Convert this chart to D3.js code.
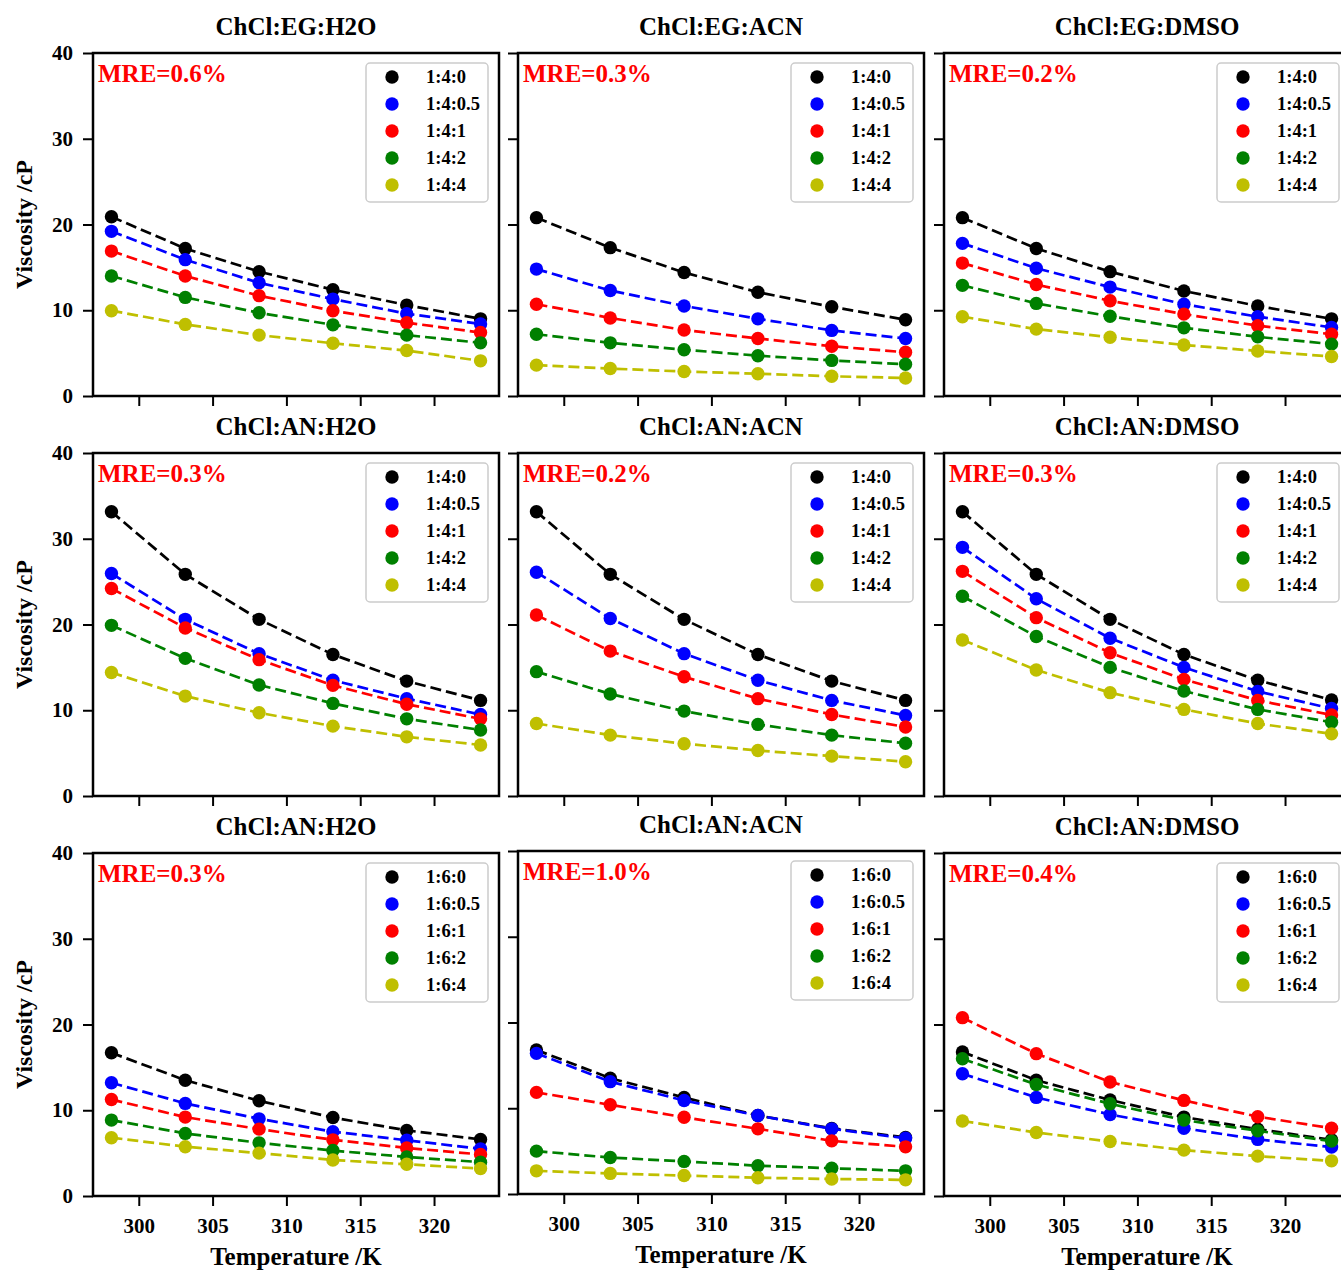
<!DOCTYPE html>
<html>
<head>
<meta charset="utf-8">
<script src="https://cdn.jsdelivr.net/npm/d3@7"></script>
<style>
	body { margin: 0; background: #fff; }
	svg { display: block; }
	text { font-family: "Liberation Serif", "Times New Roman", serif; font-weight: bold; }
</style>
</head>
<body>
<div id="chart"></div>
<script>
// temperatures (K) shared by every panel
var temps = [298.15, 303.15, 308.15, 313.15, 318.15, 323.15];
var xTicks = [300, 305, 310, 315, 320];
var yTicks = [0, 10, 20, 30, 40];

var titles = ['ChCl:EG:H2O', 'ChCl:EG:ACN', 'ChCl:EG:DMSO',
	'ChCl:AN:H2O', 'ChCl:AN:ACN', 'ChCl:AN:DMSO',
	'ChCl:AN:H2O', 'ChCl:AN:ACN', 'ChCl:AN:DMSO'];
var mreLabels = ['MRE=0.6%', 'MRE=0.3%', 'MRE=0.2%',
	'MRE=0.3%', 'MRE=0.2%', 'MRE=0.3%',
	'MRE=0.3%', 'MRE=1.0%', 'MRE=0.4%'];
var ratios14 = ['1:4:0', '1:4:0.5', '1:4:1', '1:4:2', '1:4:4'];
var ratios16 = ['1:6:0', '1:6:0.5', '1:6:1', '1:6:2', '1:6:4'];

// viscosity (cP), one row per ratio, in legend order
var egH2O = [
	[20.9, 17.2, 14.5, 12.4, 10.6, 9.0],
	[19.2, 15.9, 13.2, 11.3, 9.6, 8.4],
	[16.9, 14.0, 11.7, 9.95, 8.55, 7.4],
	[14.0, 11.5, 9.7, 8.3, 7.1, 6.2],
	[9.95, 8.35, 7.1, 6.15, 5.3, 4.1]];
var egACN = [
	[20.8, 17.3, 14.4, 12.1, 10.4, 8.9],
	[14.8, 12.3, 10.5, 9.0, 7.65, 6.7],
	[10.7, 9.1, 7.7, 6.7, 5.8, 5.1],
	[7.2, 6.2, 5.4, 4.7, 4.15, 3.7],
	[3.6, 3.2, 2.85, 2.6, 2.3, 2.1]];
var egDMSO = [
	[20.8, 17.2, 14.5, 12.25, 10.5, 9.0],
	[17.8, 14.9, 12.7, 10.7, 9.25, 8.0],
	[15.5, 13.0, 11.1, 9.55, 8.2, 7.2],
	[12.9, 10.8, 9.3, 7.95, 6.9, 6.05],
	[9.25, 7.8, 6.85, 5.95, 5.25, 4.6]];
var an4H2O = [
	[33.15, 25.85, 20.6, 16.5, 13.4, 11.15],
	[25.95, 20.6, 16.6, 13.5, 11.35, 9.5],
	[24.2, 19.6, 15.9, 12.9, 10.7, 9.0],
	[19.9, 16.05, 12.95, 10.8, 9.0, 7.7],
	[14.4, 11.65, 9.7, 8.15, 6.9, 5.95]];
var an4ACN = [
	[33.15, 25.85, 20.6, 16.5, 13.4, 11.15],
	[26.1, 20.7, 16.6, 13.5, 11.15, 9.4],
	[21.1, 16.9, 13.9, 11.35, 9.5, 8.05],
	[14.5, 11.9, 9.9, 8.35, 7.1, 6.15],
	[8.45, 7.1, 6.1, 5.3, 4.65, 4.0]];
var an4DMSO = [
	[33.15, 25.85, 20.6, 16.5, 13.5, 11.2],
	[29.0, 23.0, 18.4, 15.0, 12.2, 10.2],
	[26.2, 20.8, 16.7, 13.6, 11.15, 9.45],
	[23.3, 18.6, 15.0, 12.25, 10.1, 8.6],
	[18.2, 14.7, 12.05, 10.1, 8.45, 7.25]];
var an6H2O = [
	[16.7, 13.5, 11.1, 9.15, 7.65, 6.6],
	[13.2, 10.8, 9.0, 7.5, 6.5, 5.5],
	[11.25, 9.2, 7.8, 6.55, 5.6, 4.85],
	[8.85, 7.3, 6.2, 5.3, 4.55, 3.95],
	[6.8, 5.75, 5.0, 4.2, 3.7, 3.2]];
var an6ACN = [
	[16.8, 13.5, 11.25, 9.15, 7.65, 6.6],
	[16.4, 13.1, 10.9, 9.15, 7.6, 6.5],
	[11.85, 10.4, 8.95, 7.6, 6.2, 5.5],
	[5.0, 4.25, 3.8, 3.3, 3.0, 2.7],
	[2.7, 2.4, 2.15, 1.9, 1.75, 1.65]];
var an6DMSO = [
	[16.8, 13.5, 11.2, 9.2, 7.8, 6.55],
	[14.25, 11.5, 9.5, 7.9, 6.6, 5.7],
	[20.8, 16.6, 13.3, 11.15, 9.25, 7.9],
	[16.0, 13.0, 10.75, 8.85, 7.6, 6.4],
	[8.75, 7.4, 6.35, 5.35, 4.65, 4.1]];

var panelData = [egH2O, egACN, egDMSO, an4H2O, an4ACN, an4DMSO, an6H2O, an6ACN, an6DMSO];
var panelRatios = [ratios14, ratios14, ratios14, ratios14, ratios14, ratios14, ratios16, ratios16, ratios16];

// matplotlib k, b, r, g, y
var colors = ['#000000', '#0000ff', '#ff0000', '#008000', '#bfbf00'];

// layout
var width = 1341, height = 1272;
var colLeft = [93, 518, 944];
var rowTop = [53, 453, 853];
var panelW = 406, panelH = 343;
var shiftY = [0, 0, 0, 0, 0, 0, 0, -2, 0];

var svg = d3.select('#chart').append('svg')
	.attr('width', width)
	.attr('height', height);

var x = d3.scaleLinear().domain([296.9, 324.4]).range([0, panelW]);
var y = d3.scaleLinear().domain([0, 40]).range([panelH, 0]);

var line = d3.line()
	.x(function(d, i) { return x(temps[i]); })
	.y(function(d) { return y(d); });

panelData.forEach(function(series, p) {
	var row = Math.floor(p / 3), col = p % 3;
	var g = svg.append('g')
		.attr('transform', 'translate(' + colLeft[col] + ',' + (rowTop[row] + shiftY[p]) + ')');

	// title
	g.append('text')
		.attr('x', panelW / 2)
		.attr('y', -18)
		.attr('text-anchor', 'middle')
		.style('font-size', '25px')
		.text(titles[p]);

	// axes (ticks only, frame drawn separately)
	var yAxis = d3.axisLeft(y).tickValues(yTicks).tickSize(10).tickPadding(10)
		.tickFormat(col === 0 ? d3.format('d') : function() { return ''; });
	var ya = g.append('g').call(yAxis);
	var xAxis = d3.axisBottom(x).tickValues(xTicks).tickSize(10).tickPadding(12)
		.tickFormat(row === 2 ? d3.format('d') : function() { return ''; });
	var xa = g.append('g').attr('transform', 'translate(0,' + panelH + ')').call(xAxis);
	[ya, xa].forEach(function(a) {
		a.select('.domain').remove();
		a.selectAll('line').attr('stroke', '#000').attr('stroke-width', 2);
		a.selectAll('text')
			.attr('fill', '#000')
			.style('font-size', '21px')
			.style('font-family', '"Liberation Serif", "Times New Roman", serif')
			.style('font-weight', 'bold');
	});

	// series: dashed line + markers
	series.forEach(function(vals, s) {
		g.append('path')
			.attr('d', line(vals))
			.attr('fill', 'none')
			.attr('stroke', colors[s])
			.attr('stroke-width', 2.7)
			.attr('stroke-dasharray', '11,5');
		g.selectAll('circle.s' + s)
			.data(vals)
			.enter()
			.append('circle')
			.attr('class', 's' + s)
			.attr('cx', function(d, i) { return x(temps[i]); })
			.attr('cy', function(d) { return y(d); })
			.attr('r', 6.7)
			.attr('fill', colors[s]);
	});

	// frame
	g.append('rect')
		.attr('width', panelW)
		.attr('height', panelH)
		.attr('fill', 'none')
		.attr('stroke', '#000')
		.attr('stroke-width', 2.5);

	// MRE annotation
	g.append('text')
		.attr('x', 5)
		.attr('y', 29)
		.attr('fill', '#ff0000')
		.style('font-size', '25px')
		.text(mreLabels[p]);

	// legend
	var lg = g.append('g').attr('transform', 'translate(' + (panelW - 133) + ',10)');
	lg.append('rect')
		.attr('width', 122)
		.attr('height', 139)
		.attr('rx', 4)
		.attr('fill', '#fff')
		.attr('fill-opacity', 0.85)
		.attr('stroke', '#cccccc')
		.attr('stroke-width', 1.5);
	panelRatios[p].forEach(function(label, s) {
		lg.append('circle')
			.attr('cx', 26)
			.attr('cy', 14 + s * 27)
			.attr('r', 6.7)
			.attr('fill', colors[s]);
		lg.append('text')
			.attr('x', 60)
			.attr('y', 14 + s * 27)
			.attr('dy', '0.35em')
			.style('font-size', '18.5px')
			.text(label);
	});

	// axis labels
	if (col === 0) {
		g.append('text')
			.attr('transform', 'translate(-61,' + (panelH / 2) + ') rotate(-90)')
			.attr('text-anchor', 'middle')
			.style('font-size', '24px')
			.text('Viscosity /cP');
	}
	if (row === 2) {
		g.append('text')
			.attr('x', panelW / 2)
			.attr('y', panelH + 69)
			.attr('text-anchor', 'middle')
			.style('font-size', '25px')
			.text('Temperature /K');
	}
});
</script>
</body>
</html>
